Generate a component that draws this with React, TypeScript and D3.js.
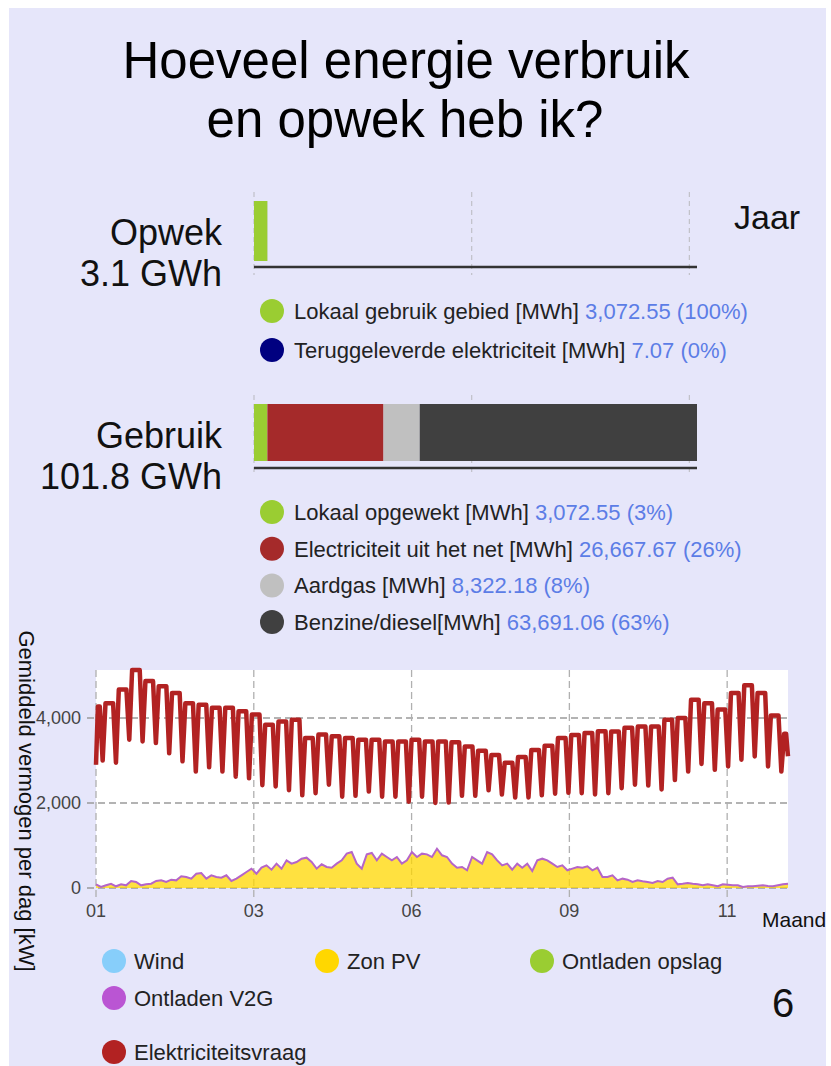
import React from 'react';
import * as d3 from 'd3';

const W = 831;
const H = 1066;
const FONT = 'Liberation Sans, Arial, Helvetica, sans-serif';

// Jaar: opwek en gebruik (MWh)
const opwekLabels = ['Lokaal gebruik gebied [MWh]', 'Teruggeleverde elektriciteit [MWh]'];
const opwekValues = [3072.55, 7.07];
const opwekColors = ['#9ACD32', '#000080'];

const gebruikLabels = [
  'Lokaal opgewekt [MWh]',
  'Electriciteit uit het net [MWh]',
  'Aardgas [MWh]',
  'Benzine/diesel[MWh]',
];
const gebruikValues = [3072.55, 26667.67, 8322.18, 63691.06];
const gebruikColors = ['#9ACD32', '#A52A2A', '#C0C0C0', '#404040'];

// Elektriciteitsvraag per dag [kW]: werkdagen per week en weekenddip per week
const weekdayDemand = [
  4270, 4350, 4670, 5130, 4870, 4750, 4590, 4350, 4310, 4240, 4240, 4160, 4080,
  3840, 3920, 3960, 3530, 3610, 3570, 3530, 3490, 3490, 3450, 3450, 3490, 3450,
  3450, 3430, 3330, 3230, 3130, 2950, 3080, 3250, 3350, 3530, 3600, 3650, 3690,
  3680, 3770, 3800, 3800, 3960, 4000, 4430, 4350, 4200, 4590, 4770, 4590, 4060,
  3630,
];
const weekendDemand = [
  3000, 2950, 3490, 3450, 3410, 3170, 2980, 2740, 2840, 2740, 2620, 2580, 2420,
  2390, 2300, 2180, 2230, 2430, 2150, 2170, 2270, 2150, 2150, 2030, 2150, 2000,
  2010, 2170, 2170, 2300, 2200, 2130, 2130, 2180, 2220, 2240, 2230, 2200, 2230,
  2350, 2430, 2410, 2320, 2540, 2740, 2920, 2780, 2860, 3020, 3095, 2860, 2740,
];
const yearStartDemand = 2900;
const yearEndDemand = 3100;

// Zon PV [kW], gelijk verdeeld over het jaar
const solarPV = [
  86, 24, 63, 100, 40, 86, 63, 165, 141, 63, 86, 100, 165, 180, 141, 196, 180, 275, 260, 220,
  337, 353, 220, 298, 260, 243, 298, 165, 220, 298, 376, 455, 337, 478, 533, 431, 573, 455, 651, 573,
  612, 690, 714, 612, 455, 557, 494, 478, 573, 651, 808, 847, 573, 455, 792, 824, 651, 808, 729, 651,
  729, 573, 651, 847, 729, 808, 792, 729, 925, 769, 729, 573, 478, 494, 416, 729, 651, 573, 847, 792,
  651, 533, 573, 431, 573, 478, 573, 400, 651, 690, 651, 573, 494, 533, 416, 455, 494, 478, 510, 416,
  478, 259, 259, 298, 180, 220, 196, 141, 180, 157, 141, 118, 165, 141, 220, 243, 86, 100, 118, 100,
  86, 63, 86, 63, 40, 86, 78, 63, 63, 24, 40, 40, 55, 63, 47, 40, 63, 86, 100,
];

const yTicks = [0, 2000, 4000];
const monthTickDays = [0, 83, 166, 249, 332];

const chartLegend = [
  { name: 'Wind', color: '#87CEFA' },
  { name: 'Zon PV', color: '#FFD700' },
  { name: 'Ontladen opslag', color: '#9ACD32' },
  { name: 'Ontladen V2G', color: '#BA55D3' },
  { name: 'Elektriciteitsvraag', color: '#B22222' },
];

const VALUE_COLOR = '#5C7DE6';
const TEXT_COLOR = '#222';

const yearStart = new Date(2014, 0, 1);
const dayDate = (d: number) => new Date(yearStart.getTime() + d * 864e5);

// werkdagen vlak, weekend als één dal tussen za en zo
function buildDemand(): [number, number][] {
  const pts: [number, number][] = [[0, yearStartDemand]];
  weekdayDemand.forEach((v, k) => {
    const start = k === 0 ? 1 : 7 * k - 2;
    const end = Math.min(7 * k + 2, 363);
    pts.push([start, v], [end, v]);
    if (k < weekendDemand.length) pts.push([7 * k + 3.5, weekendDemand[k]]);
  });
  pts.push([364, yearEndDemand]);
  return pts;
}

const BarBlock = ({ values, colors, labels, y0, axisY, barH, scale, title, sub, legendY, legendStep }: any) => {
  const total = d3.sum(values as number[]);
  let acc = 0;
  const segs = (values as number[]).map((v, i) => {
    const s = { x0: acc, x1: acc + v, color: colors[i] };
    acc += v;
    return s;
  });
  const fmt = d3.format(',.2f');
  return (
    <g>
      {[0, 50000, 100000].map(t => (
        <line key={t} x1={scale(t)} x2={scale(t)} y1={y0 - 9} y2={axisY + 8}
          stroke="#c0c0c8" strokeDasharray="5,4" strokeWidth={1.2} />
      ))}
      {segs.map((s, i) => (
        <rect key={i} x={scale(s.x0)} y={y0} width={Math.max(0, scale(s.x1) - scale(s.x0))}
          height={barH} fill={s.color} />
      ))}
      <line x1={scale(0)} x2={scale.range()[1]} y1={axisY} y2={axisY} stroke="#333" strokeWidth={2.5} />
      <text x={222} y={y0 + 44} textAnchor="end" fontSize={36} fill="#111">{title}</text>
      <text x={222} y={y0 + 85} textAnchor="end" fontSize={36} fill="#111">{sub}</text>
      {(labels as string[]).map((l, i) => (
        <g key={l} transform={`translate(0, ${legendY + i * legendStep})`}>
          <circle cx={272} cy={0} r={12} fill={colors[i]} />
          <text x={294} y={0} dy="0.36em" fontSize={22} fill={TEXT_COLOR}>
            {l} <tspan fill={VALUE_COLOR}>{fmt(values[i])} ({Math.round((values[i] / total) * 100)}%)</tspan>
          </text>
        </g>
      ))}
    </g>
  );
};

export default function App() {
  const gebruikTotal = d3.sum(gebruikValues);
  const opwekTotal = d3.sum(opwekValues);
  const xBar = d3.scaleLinear().domain([0, gebruikTotal]).range([254, 697]);
  const gwh = d3.format('.1f');

  // lijngrafiek
  const plot = { left: 96, right: 788, top: 670, bottom: 888 };
  const demand = buildDemand();
  const x = d3.scaleTime().domain([yearStart, dayDate(364)]).range([plot.left, plot.right]);
  const y = d3.scaleLinear()
    .domain([0, d3.max(demand, d => d[1]) as number])
    .range([plot.bottom, plot.top]);
  const solarStep = 364 / (solarPV.length - 1);
  const solarPts = solarPV.map((v, i) => [i * solarStep, v] as [number, number]);

  const lineGen = d3.line<[number, number]>()
    .x(d => x(dayDate(d[0])))
    .y(d => y(d[1]));
  const solarArea = d3.area<[number, number]>()
    .x(d => x(dayDate(d[0])))
    .y0(y(0))
    .y1(d => y(d[1]));
  const monthFmt = d3.timeFormat('%m');
  const kFmt = d3.format(',');

  const legendSlots = [
    [114, 961], [327, 961], [542, 961], [114, 998], [114, 1052],
  ];

  return (
    <svg width={W} height={H} style={{ position: 'absolute', left: 0, top: 0 }} fontFamily={FONT}>
      <rect x={0} y={0} width={W} height={H} fill="#fff" />
      <rect x={9} y={8} width={817} height={H - 8} fill="#E6E6FA" />

      <text x={406} y={78} textAnchor="middle" fontSize={51} fill="#000">Hoeveel energie verbruik</text>
      <text x={405} y={137} textAnchor="middle" fontSize={51} fill="#000">en opwek heb ik?</text>
      <text x={734} y={229} fontSize={34} fill="#111">Jaar</text>

      <BarBlock values={opwekValues} colors={opwekColors} labels={opwekLabels}
        y0={201} axisY={267} barH={60} scale={xBar}
        title="Opwek" sub={`${gwh(opwekTotal / 1000)} GWh`} legendY={311} legendStep={39} />
      <BarBlock values={gebruikValues} colors={gebruikColors} labels={gebruikLabels}
        y0={404} axisY={468} barH={57} scale={xBar}
        title="Gebruik" sub={`${gwh(gebruikTotal / 1000)} GWh`} legendY={512} legendStep={36.7} />

      {/* grafiek */}
      <rect x={plot.left} y={plot.top} width={plot.right - plot.left} height={plot.bottom - plot.top} fill="#fff" />
      {yTicks.map(t => (
        <g key={t}>
          <line x1={plot.left - 9} x2={plot.right} y1={y(t)} y2={y(t)}
            stroke="#9a9a9a" strokeDasharray="7,4" strokeWidth={1.3} />
          <text x={81} y={y(t)} dy="0.35em" textAnchor="end" fontSize={18} fill="#444">{kFmt(t)}</text>
        </g>
      ))}
      {monthTickDays.map(d => (
        <g key={d}>
          <line x1={x(dayDate(d))} x2={x(dayDate(d))} y1={plot.top} y2={plot.bottom + 9}
            stroke="#b0b0b0" strokeDasharray="7,4" strokeWidth={1.3} />
          <text x={x(dayDate(d))} y={917} textAnchor="middle" fontSize={18} fill="#444">{monthFmt(dayDate(d))}</text>
        </g>
      ))}
      <path d={solarArea(solarPts) || ''} fill="#FFD700" fillOpacity={0.75} />
      <path d={lineGen(solarPts) || ''} fill="none" stroke="#B565C8" strokeWidth={2} />
      <path d={lineGen(demand) || ''} fill="none" stroke="#B22222" strokeWidth={4.5} strokeLinejoin="round" />

      <text x={762} y={927} fontSize={21} fill="#111">Maand</text>
      <text transform="translate(19, 801) rotate(90)" textAnchor="middle" fontSize={22} fill="#111">
        Gemiddeld vermogen per dag [kW]
      </text>

      {chartLegend.map((l, i) => (
        <g key={l.name} transform={`translate(${legendSlots[i][0]}, ${legendSlots[i][1]})`}>
          <circle cx={0} cy={0} r={12} fill={l.color} />
          <text x={20} y={0} dy="0.36em" fontSize={22} fill={TEXT_COLOR}>{l.name}</text>
        </g>
      ))}

      <text x={783} y={1017} textAnchor="middle" fontSize={40} fill="#111">6</text>
    </svg>
  );
}
